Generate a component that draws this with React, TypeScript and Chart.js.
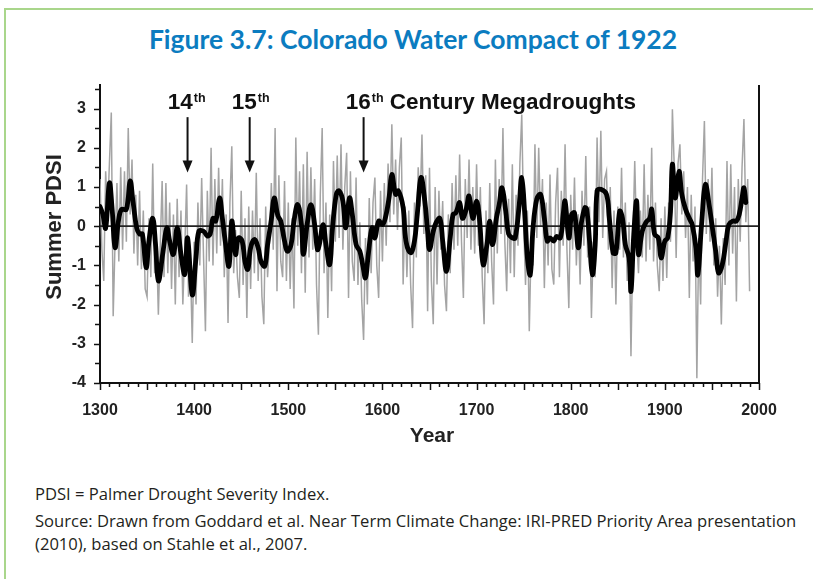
import React, { useEffect, useRef } from 'react';
import { Chart, registerables } from 'chart.js';

Chart.register(...registerables);

const TITLE = 'Figure 3.7: Colorado Water Compact of 1922';
const Y_TITLE = 'Summer PDSI';
const X_TITLE = 'Year';
const NOTE_1 = 'PDSI = Palmer Drought Severity Index.';
const NOTE_2A = 'Source: Drawn from Goddard et al. Near Term Climate Change: IRI-PRED Priority Area presentation';
const NOTE_2B = '(2010), based on Stahle et al., 2007.';

const X_MIN = 1300;
const X_MAX = 2000;
const Y_MIN = -4;
const Y_MAX = 3.6;

// annual reconstruction (grey), one value every 2 years from 1300
const grayStartYear = 1300;
const grayStepYears = 2;
const grayValues = [
  1.2, -0.6, -1.4, 1.4, 0.3,
  1.6, 2.9, -2.3, -0.4, 1.1,
  -0.9, 1.5, -0.6, 1.4, -0.4,
  2.5, 0.3, 1.7, -0.7, 0.8,
  -1.0, 0.9, -1.1, 0.4, -1.6,
  -1.8, 0.2, -1.3, 1.6, -1.2,
  -0.4, -2.26, -0.5, 1.15, -1.3,
  1.1, -1.2, 0.6, -1.6, 0.3,
  -2.0, 0.7, -1.3, 0.4, -2.0,
  -0.6, 1.06, -1.8, -0.9, -2.98,
  -0.4, -2.0, 0.6, -1.0, 1.23,
  -0.8, -2.68, 0.9, -0.9, 2.0,
  -1.0, 1.2, -0.7, 1.49, -0.5,
  1.2, -1.3, 0.3, -2.47, 0.6,
  2.04, -1.2, -0.1, -1.3, -1.83,
  0.9, -1.5, 0.2, -2.34, 0.5,
  -1.6, 0.4, -1.2, 1.36, -1.4,
  0.2, -1.8, -2.5, 0.5, -1.3,
  -0.4, 1.1, -0.6, 2.5, -1.66,
  1.3, -0.9, -1.3, 1.15, -1.4,
  0.6, -1.6, 0.2, -2.1, 2.26,
  -0.5, 1.4, -1.2, 1.58, -1.7,
  1.9, -0.8, 1.5, -0.6, 1.2,
  -1.5, -2.77, 0.8, 2.5, -1.2,
  0.6, -2.34, 0.3, -1.66, 1.66,
  -0.4, 1.8, -0.3, 2.09, -0.6,
  1.0, 1.87, -1.83, 1.4, -0.9,
  -1.4, 1.24, -1.5, 0.1, -1.9,
  -2.9, -0.3, -2.0, 0.72, -1.2,
  0.6, 1.24, -1.0, -1.83, 0.9,
  -0.9, 1.1, -0.5, 1.6, 0.1,
  2.6, 0.3, 1.7, -0.1, 1.5,
  2.26, -1.49, 0.5, -1.3, 0.4,
  -1.5, -2.6, 0.6, -0.8, 1.5,
  0.5, 2.34, -0.2, 1.3, -2.17,
  1.49, -1.4, -2.5, 1.0, -1.49,
  0.9, -0.6, 0.64, -1.5, -2.17,
  0.3, -1.2, 1.1, -0.6, 1.3,
  -0.5, 1.83, -0.4, -1.83, 1.2,
  -0.3, 1.7, -0.6, 1.0, -0.7,
  1.58, -0.5, 1.0, -1.3, -2.5,
  0.4, -1.2, 1.1, -0.9, -2.0,
  1.7, -0.7, 1.2, -0.2, 2.5,
  -0.4, -1.66, 0.7, -1.2, 1.58,
  -1.3, 0.8, -0.5, 1.6, 2.85,
  0.1, -1.5, 0.4, -2.68, -0.4,
  -1.0, 2.09, -0.3, 2.0, 0.0,
  1.2, -1.58, 0.6, -1.0, 1.32,
  -1.1, -1.49, 0.6, 1.49, -1.3,
  0.9, -0.5, 2.09, -0.6, -2.09,
  0.8, -0.6, 1.24, -1.0, 0.3,
  -1.49, 0.9, -0.5, 1.79, -0.8,
  0.5, -2.34, -0.4, -1.3, 2.26,
  0.1, 2.43, -0.3, 1.2, 1.4,
  -0.6, 1.0, -1.58, 0.4, -2.0,
  0.5, -0.6, 1.49, -0.8, 0.6,
  -1.4, 0.1, -3.32, -0.4, 1.66,
  -0.3, -1.2, 0.4, -0.8, 1.58,
  -0.9, 0.8, -0.6, 2.0, -0.9,
  0.6, -1.0, -1.66, 0.2, -1.4,
  0.5, -1.32, 0.6, -0.4, 2.98,
  1.5, -0.81, 1.6, 2.09, 0.3,
  1.4, -0.3, 1.0, -1.83, 0.8,
  -0.9, 0.5, -3.88, -0.3, -2.0,
  1.2, 2.68, -0.2, 1.2, -0.4,
  1.49, -1.0, 0.2, -1.8, -0.5,
  -2.51, -0.3, -1.5, 1.66, -1.0,
  1.58, -0.7, 1.0, -1.92, 1.2,
  -0.4, 1.5, 2.73, 0.1, 1.2,
  -1.66,
];

// smoothed series (black)
const smoothYears = [
  1300, 1303, 1306, 1310, 1313, 1316, 1320, 1323, 1328, 1332, 1335, 1339, 1342, 1345, 1349,
  1352, 1356, 1359, 1362, 1367, 1371, 1374, 1378, 1382, 1386, 1390, 1393, 1398, 1402, 1405,
  1410, 1414, 1417, 1420, 1423, 1427, 1430, 1433, 1437, 1440, 1444, 1447, 1451, 1454, 1457,
  1460, 1464, 1468, 1471, 1475, 1478, 1482, 1485, 1489, 1492, 1496, 1499, 1503, 1506, 1510,
  1514, 1516, 1520, 1524, 1528, 1531, 1533, 1537, 1540, 1544, 1547, 1551, 1554, 1558, 1561,
  1565, 1568, 1572, 1576, 1579, 1582, 1585, 1589, 1592, 1596, 1600, 1603, 1607, 1610, 1614,
  1617, 1622, 1625, 1630, 1634, 1637, 1641, 1645, 1648, 1650, 1654, 1657, 1661, 1664, 1668,
  1672, 1675, 1678, 1682, 1685, 1689, 1692, 1696, 1700, 1703, 1707, 1711, 1714, 1717, 1721,
  1724, 1727, 1731, 1734, 1738, 1741, 1745, 1748, 1751, 1754, 1757, 1760, 1764, 1768, 1772,
  1775, 1778, 1782, 1785, 1789, 1792, 1794, 1798, 1801, 1804, 1808, 1811, 1815, 1817, 1820,
  1823, 1826, 1828, 1832, 1838, 1841, 1845, 1848, 1852, 1855, 1858, 1862, 1864, 1867, 1870,
  1872, 1876, 1880, 1884, 1886, 1889, 1893, 1896, 1900, 1903, 1906, 1908, 1911, 1915, 1918,
  1922, 1926, 1929, 1933, 1935, 1939, 1943, 1947, 1950, 1954, 1957, 1961, 1965, 1968, 1972,
  1976, 1979, 1982, 1984, 1986,
];
const smoothValues = [
  0.5, 0.3, -0.05, 1.1, 0.4, -0.55, 0.2, 0.43, 0.43, 1.15, 0.64, -0.05, -0.2, -0.2, -1.06,
  -0.38, 0.2, -0.47, -1.4, -0.64, -0.04, -0.38, -0.72, -0.04, -0.72, -1.23, -0.3, -1.75, -0.8, -0.13,
  -0.13, -0.25, -0.2, 0.2, 0.13, 0.72, 0.2, -0.38, -1.02, 0.13, -0.72, -0.3, -0.38, -0.9, -1.1,
  -0.55, -0.34, -0.55, -0.9, -1.02, -0.47, 0.17, 0.72, 0.26, 0.13, -0.38, -0.64, -0.47, 0.13, 0.55,
  0.04, -0.72, 0.04, 0.55, 0.04, -0.6, -0.47, 0.04, -0.47, -0.98, -0.04, 0.81, 0.9, 0.64, -0.04,
  0.72, 0.3, -0.47, -0.64, -0.98, -1.32, -0.72, -0.04, -0.3, 0.13, 0.04, 0.2, 0.72, 1.32, 0.81,
  0.9, 0.47, -0.38, -0.68, -0.38, 0.3, 1.24, 0.64, -0.13, -0.6, -0.13, 0.09, 0.2, -0.38, -1.15,
  -0.3, 0.3, 0.34, 0.6, 0.2, 0.43, 0.77, 0.2, 0.64, 0.2, -0.98, -0.47, 0.13, -0.47, 0.2,
  0.55, 0.98, 0.38, -0.2, -0.3, -0.3, 0.47, 1.24, 0.38, -0.81, -1.24, -0.04, 0.7, 0.81, 0.2,
  -0.38, -0.3, -0.38, -0.26, -0.3, 0.3, 0.64, -0.3, 0.3, 0.34, -0.55, 0.04, 0.47, 0.43, -0.38,
  -1.24, -0.47, 0.9, 0.94, 0.81, 0.2, -0.68, -0.68, 0.38, 0.2, -0.47, -0.81, -1.66, -0.2, 0.64,
  -0.72, -0.13, 0.1, 0.2, 0.43, -0.2, -0.3, -0.81, -0.38, -0.3, 0.38, 1.58, 0.72, 1.4, 0.81,
  0.43, 0.2, 0.04, -0.55, -1.24, 0.04, 1.06, 0.55, 0.04, -0.64, -1.19, -0.98, -0.38, 0.04, 0.13,
  0.13, 0.3, 0.72, 0.98, 0.6,
];

// drought annotations
const arrowYears = [1393, 1459, 1580];
const labelYears = [1372, 1440, 1561];
const labelNumbers = ['14', '15', '16'];
const labelSuffix = ['th', 'th', 'th'];
const labelRest = ['', '', ' Century Megadroughts'];
const labelBaseValue = 3.0;
const arrowTopValue = 2.78;
const arrowTipValue = 1.37;

const xTickStep = 100;
const yTickStep = 1;

const AXIS_FONT = '"Liberation Sans", Arial, Helvetica, sans-serif';

const overlayPlugin = {
  id: 'overlay',
  afterDraw(chart: any) {
    const { ctx, chartArea, scales } = chart;
    const xs = scales.x;
    const ys = scales.y;
    ctx.save();
    ctx.strokeStyle = '#111';
    ctx.fillStyle = '#111';
    // right frame line
    ctx.lineWidth = 2;
    ctx.beginPath();
    ctx.moveTo(chartArea.right, chartArea.top);
    ctx.lineTo(chartArea.right, chartArea.bottom + 1);
    ctx.stroke();
    // y tick marks
    ctx.lineWidth = 1.5;
    for (let v = Y_MIN; v <= 3.5 + 1e-6; v += 0.5) {
      const y = Math.round(ys.getPixelForValue(v)) + 0.5;
      const len = Math.abs(v - Math.round(v)) < 1e-6 ? 6 : 5;
      ctx.beginPath();
      ctx.moveTo(chartArea.left, y);
      ctx.lineTo(chartArea.left - len, y);
      ctx.stroke();
    }
    // x tick marks
    for (let yr = X_MIN; yr <= X_MAX; yr += 10) {
      const x = Math.round(xs.getPixelForValue(yr)) + 0.5;
      const len = yr % 50 === 0 ? 7 : 4;
      ctx.beginPath();
      ctx.moveTo(x, chartArea.bottom);
      ctx.lineTo(x, chartArea.bottom + len);
      ctx.stroke();
    }
    // annotations
    ctx.lineWidth = 2;
    for (let i = 0; i < arrowYears.length; i++) {
      const ax = xs.getPixelForValue(arrowYears[i]);
      const top = ys.getPixelForValue(arrowTopValue);
      const tip = ys.getPixelForValue(arrowTipValue);
      ctx.beginPath();
      ctx.moveTo(ax, top);
      ctx.lineTo(ax, tip - 10);
      ctx.stroke();
      ctx.beginPath();
      ctx.moveTo(ax - 5, tip - 12);
      ctx.lineTo(ax + 5, tip - 12);
      ctx.lineTo(ax, tip);
      ctx.closePath();
      ctx.fill();

      const lx = xs.getPixelForValue(labelYears[i]);
      const by = ys.getPixelForValue(labelBaseValue);
      ctx.textAlign = 'left';
      ctx.textBaseline = 'alphabetic';
      ctx.font = 'bold 22.5px ' + AXIS_FONT;
      ctx.fillText(labelNumbers[i], lx, by);
      let w = ctx.measureText(labelNumbers[i]).width;
      ctx.font = 'bold 12.5px ' + AXIS_FONT;
      ctx.fillText(labelSuffix[i], lx + w + 1, by - 7);
      w += 1 + ctx.measureText(labelSuffix[i]).width;
      if (labelRest[i]) {
        ctx.font = 'bold 22.5px ' + AXIS_FONT;
        ctx.fillText(labelRest[i], lx + w, by);
      }
    }
    // axis titles
    ctx.fillStyle = '#222';
    ctx.font = 'bold 22px ' + AXIS_FONT;
    ctx.textAlign = 'center';
    ctx.textBaseline = 'middle';
    ctx.save();
    ctx.translate(55, 227);
    ctx.rotate(-Math.PI / 2);
    ctx.fillText(Y_TITLE, 0, 0);
    ctx.restore();
    ctx.font = 'bold 21px ' + AXIS_FONT;
    ctx.fillText(X_TITLE, 432, 436);
    ctx.restore();
  },
};

export default function App() {
  const canvasRef = useRef<HTMLCanvasElement | null>(null);

  useEffect(() => {
    document.body.style.margin = '0';
    const canvas = canvasRef.current;
    if (!canvas) return;
    const grayData = grayValues.map((v, i) => ({ x: grayStartYear + i * grayStepYears, y: v }));
    const smoothData = smoothYears.map((yr, i) => ({ x: yr, y: smoothValues[i] }));
    const chart = new Chart(canvas, {
      type: 'line',
      data: {
        datasets: [
          {
            data: grayData,
            borderColor: '#a4a4a4',
            borderWidth: 1.5,
            pointRadius: 0,
            tension: 0,
            order: 3,
          },
          {
            data: [{ x: X_MIN, y: 0 }, { x: X_MAX, y: 0 }],
            borderColor: '#222',
            borderWidth: 1.6,
            pointRadius: 0,
            order: 2,
          },
          {
            data: smoothData,
            borderColor: '#000',
            borderWidth: 4.8,
            pointRadius: 0,
            tension: 0.4,
            borderJoinStyle: 'round',
            borderCapStyle: 'round',
            order: 1,
          },
        ],
      },
      options: {
        responsive: false,
        animation: false,
        devicePixelRatio: 1,
        layout: { padding: { top: 85, right: 54, left: 0, bottom: 0 } },
        plugins: { legend: { display: false }, tooltip: { enabled: false }, title: { display: false } },
        scales: {
          x: {
            type: 'linear',
            min: X_MIN,
            max: X_MAX,
            grid: { display: false, drawTicks: false },
            border: { display: true, color: '#111', width: 2 },
            ticks: {
              stepSize: xTickStep,
              autoSkip: false,
              maxRotation: 0,
              padding: 18,
              color: '#222',
              font: { family: AXIS_FONT, size: 16, weight: 'bold' },
              callback: (v: any) => String(v),
            },
            afterFit: (s: any) => { s.height = 77; },
          },
          y: {
            type: 'linear',
            min: Y_MIN,
            max: Y_MAX,
            grid: { display: false, drawTicks: false },
            border: { display: true, color: '#111', width: 2 },
            ticks: {
              stepSize: yTickStep,
              includeBounds: false,
              padding: 14,
              color: '#222',
              font: { family: AXIS_FONT, size: 16, weight: 'bold' },
              callback: (v: any) => String(v),
            },
            afterFit: (s: any) => { s.width = 100; },
          },
        },
      },
      plugins: [overlayPlugin],
    } as any);
    return () => chart.destroy();
  }, []);

  const noteStyle: any = {
    position: 'absolute', left: 35, font: '16.6px "Open Sans", sans-serif', lineHeight: '23px',
    color: '#231f20', whiteSpace: 'nowrap',
  };

  return (
    <div style={{ position: 'relative', width: 813, height: 579, background: '#fff', overflow: 'hidden' }}>
      <div
        style={{
          position: 'absolute', left: 4, top: 8, width: 900, height: 700,
          borderTop: '2px solid #a9d68b', borderLeft: '2px solid #a9d68b',
        }}
      />
      <div
        style={{
          position: 'absolute', left: 0, width: 826, top: 24, textAlign: 'center',
          font: 'bold 26.5px Lato, sans-serif', lineHeight: '30px', color: '#0b7cc0', whiteSpace: 'nowrap',
        }}
      >
        {TITLE}
      </div>
      <canvas ref={canvasRef} width={813} height={460} style={{ position: 'absolute', left: 0, top: 0, width: 813, height: 460 }} />
      <div style={{ ...noteStyle, top: 482 }}>{NOTE_1}</div>
      <div style={{ ...noteStyle, top: 509 }}>
        {NOTE_2A}
        <br />
        {NOTE_2B}
      </div>
    </div>
  );
}
